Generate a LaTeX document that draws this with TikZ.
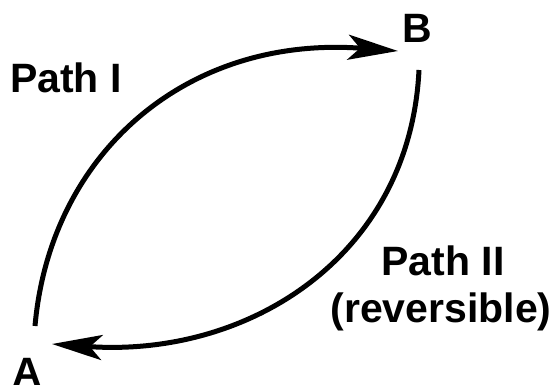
\documentclass[tikz,border=0pt]{standalone}
\usepackage{fontspec}
\setmainfont{Liberation Sans}
\usetikzlibrary{arrows.meta}
\begin{document}
\begin{tikzpicture}[x=1pt,y=-1pt,
  lbl/.style={inner sep=0pt,anchor=base,font=\fontsize{41}{47}\selectfont\bfseries},
  pathline/.style={line width=5pt,-{Stealth[length=50pt,width=25pt,inset=12pt]}}]
\useasboundingbox (0,0) rectangle (555,385);
\node[lbl] (B) at (417,43) {B};
\node[lbl] (A) at (27,386) {A};
\node[lbl] (p1) at (66,93) {Path I};
\node[lbl] (p2) at (443,276) {Path II};
\node[lbl] (rev) at (441,323) {(reversible)};
\coordinate (a1) at (35,326);
\coordinate (b1) at (398,51);
\coordinate (b2) at (419,70);
\coordinate (a2) at (52,344);
\draw[pathline] (a1) .. controls (50,155) and (185,35) .. (b1);
\draw[pathline] (b2) .. controls (410,255) and (250,358) .. (a2);
\end{tikzpicture}
\end{document}
